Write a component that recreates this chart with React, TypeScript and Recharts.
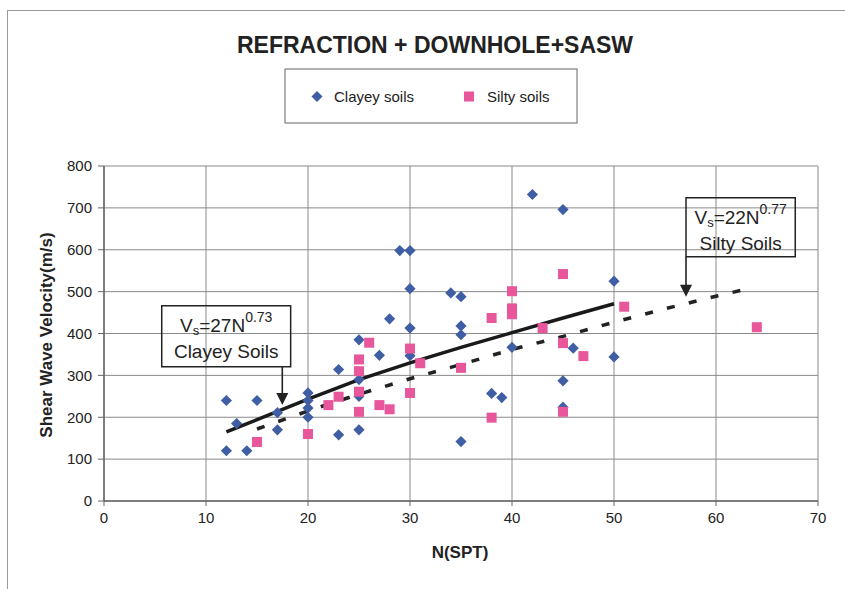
import React from 'react';
import {
  ScatterChart, Scatter, XAxis, YAxis, CartesianGrid, ReferenceArea, ReferenceLine,
} from 'recharts';

const seriesNames = ['Clayey soils', 'Silty soils'];
const seriesColors = ['#3f5ea3', '#e8569b'];

const clayeyN = [12, 12, 13, 14, 15, 17, 17, 20, 20, 20, 20, 23, 23, 25, 25, 25, 25, 27, 28, 29, 30, 30, 30, 30, 34, 35, 35, 35, 35, 38, 39, 40, 42, 45, 45, 45, 46, 50, 50];
const clayeyVs = [240, 120, 185, 120, 240, 211, 170, 258, 240, 222, 200, 314, 158, 385, 290, 250, 170, 348, 435, 598, 598, 507, 413, 347, 497, 488, 418, 397, 142, 257, 247, 367, 732, 696, 287, 224, 365, 525, 344];

const siltyN = [15, 20, 22, 23, 25, 25, 25, 25, 26, 27, 28, 30, 30, 31, 35, 38, 38, 40, 40, 40, 43, 45, 45, 45, 47, 51, 64];
const siltyVs = [141, 160, 229, 249, 338, 310, 261, 213, 378, 229, 219, 364, 258, 329, 318, 437, 199, 501, 460, 446, 413, 542, 377, 213, 346, 464, 415];

const clayeyFitN = [12, 20, 25, 30, 35, 40, 45, 50];
const clayeyFitVs = [165, 243, 290, 330, 367, 402, 437, 471];
const siltyFitN = [15, 20, 25, 30, 35, 40, 45, 50, 55, 60, 63];
const siltyFitVs = [172, 215, 255, 292, 326, 362, 393, 427, 459, 489, 506];

const xTicks = [0, 10, 20, 30, 40, 50, 60, 70];
const yTicks = [0, 100, 200, 300, 400, 500, 600, 700, 800];

const toPts = (xs: number[], ys: number[]) => xs.map((x, i) => ({ x, y: ys[i] }));
const clayeyData = toPts(clayeyN, clayeyVs);
const siltyData = toPts(siltyN, siltyVs);
const clayeyFit = toPts(clayeyFitN, clayeyFitVs);
const siltyFit = toPts(siltyFitN, siltyFitVs);

const FONT = 'Liberation Sans, Arial, sans-serif';

const Diamond = (p: any) => {
  const { cx, cy } = p;
  const r = 5.6;
  return <polygon points={`${cx},${cy - r} ${cx + r},${cy} ${cx},${cy + r} ${cx - r},${cy}`} fill={seriesColors[0]} />;
};
const Square = (p: any) => {
  const { cx, cy } = p;
  const h = 5;
  return <rect x={cx - h} y={cy - h} width={2 * h} height={2 * h} fill={seriesColors[1]} />;
};
const NoShape = () => <g />;

const Arrow = (p: any) => {
  const { x1, y1, x2, y2 } = p;
  const top = Math.min(y1, y2);
  const tip = Math.max(y1, y2);
  return (
    <g>
      <line x1={x1} y1={top} x2={x2} y2={tip - 11} stroke="#222" strokeWidth={1.6} />
      <polygon points={`${x2 - 6},${tip - 12} ${x2 + 6},${tip - 12} ${x2},${tip}`} fill="#222" />
    </g>
  );
};

const makeLabel = (coef: string, exp: string, name: string) => (props: any) => {
  const vb = props.viewBox || {};
  const cx = vb.x + vb.width / 2;
  return (
    <g fontFamily={FONT} fill="#222">
      <text x={cx} y={vb.y + 26} textAnchor="middle" fontSize={19}>
        <tspan>V</tspan>
        <tspan fontSize={13} dy={3}>s</tspan>
        <tspan dy={-3}>{`=${coef}N`}</tspan>
        <tspan fontSize={14} dy={-10}>{exp}</tspan>
      </text>
      <text x={cx} y={vb.y + 52} textAnchor="middle" fontSize={19}>{name}</text>
    </g>
  );
};

export default function App() {
  return (
    <div style={{ position: 'absolute', left: 0, top: 0, width: 845, height: 589, overflow: 'hidden', background: '#fff' }}>
      <div style={{ position: 'absolute', left: 7, top: 10, width: 1000, height: 1000, borderLeft: '1.5px solid #9a9a9a', borderTop: '1.5px solid #9a9a9a' }} />
      <div style={{ position: 'absolute', left: 0, top: 0 }}>
        <ScatterChart width={845} height={589} margin={{ top: 166, right: 27, left: 0, bottom: 0 }}>
          <CartesianGrid stroke="#8a8a8a" strokeWidth={1} />
          <XAxis
            type="number" dataKey="x" domain={[0, 70]} ticks={xTicks} interval={0}
            height={88} tickSize={5} tickMargin={6}
            axisLine={{ stroke: '#666', strokeWidth: 1.5 }} tickLine={{ stroke: '#666' }}
            tick={{ fill: '#222', fontSize: 15, fontFamily: FONT }}
          />
          <YAxis
            type="number" dataKey="y" domain={[0, 800]} ticks={yTicks} interval={0}
            width={104} tickSize={6} tickMargin={6}
            axisLine={{ stroke: '#666', strokeWidth: 1.5 }} tickLine={{ stroke: '#666' }}
            tick={{ fill: '#222', fontSize: 15, fontFamily: FONT }}
          />
          <Scatter data={siltyFit} shape={NoShape} legendType="none" isAnimationActive={false}
            line={{ stroke: '#222', strokeWidth: 3.5, strokeDasharray: '8 14.5' }} />
          <Scatter data={clayeyFit} shape={NoShape} legendType="none" isAnimationActive={false}
            line={{ stroke: '#1a1a1a', strokeWidth: 3.5 }} />
          <Scatter name={seriesNames[0]} data={clayeyData} shape={Diamond} fill={seriesColors[0]} isAnimationActive={false} />
          <Scatter name={seriesNames[1]} data={siltyData} shape={Square} fill={seriesColors[1]} isAnimationActive={false} />
          <ReferenceArea x1={5.66} x2={18.3} y1={320.5} y2={466} fill="none" fillOpacity={0}
            stroke="#222" strokeWidth={1.5} strokeOpacity={1}
            label={makeLabel('27', '0.73', 'Clayey Soils')} />
          <ReferenceArea x1={57.06} x2={67.77} y1={583} y2={724} fill="none" fillOpacity={0}
            stroke="#222" strokeWidth={1.5} strokeOpacity={1}
            label={makeLabel('22', '0.77', 'Silty Soils')} />
          <ReferenceLine segment={[{ x: 17.48, y: 320.5 }, { x: 17.48, y: 229 }]} shape={Arrow} />
          <ReferenceLine segment={[{ x: 57.06, y: 583 }, { x: 57.06, y: 488 }]} shape={Arrow} />
        </ScatterChart>
      </div>
      <svg width={845} height={589} style={{ position: 'absolute', left: 0, top: 0, pointerEvents: 'none' }} fontFamily={FONT}>
        <text x={435} y={53} textAnchor="middle" fontSize={23} fontWeight="bold" fill="#222">REFRACTION + DOWNHOLE+SASW</text>
        <rect x={285} y={69} width={292} height={54} fill="none" stroke="#666" strokeWidth={1} />
        <polygon points="317,91 322.5,96.5 317,102 311.5,96.5" fill={seriesColors[0]} />
        <text x={334} y={102} fontSize={15} fill="#222">{seriesNames[0]}</text>
        <rect x={464} y={91.5} width={10} height={10} fill={seriesColors[1]} />
        <text x={487} y={102} fontSize={15} fill="#222">{seriesNames[1]}</text>
        <text x={52} y={335} textAnchor="middle" fontSize={17} fontWeight="bold" fill="#222" transform="rotate(-90 52 335)">Shear Wave Velocity(m/s)</text>
        <text x={460} y={558} textAnchor="middle" fontSize={17} fontWeight="bold" fill="#222">N(SPT)</text>
      </svg>
    </div>
  );
}
